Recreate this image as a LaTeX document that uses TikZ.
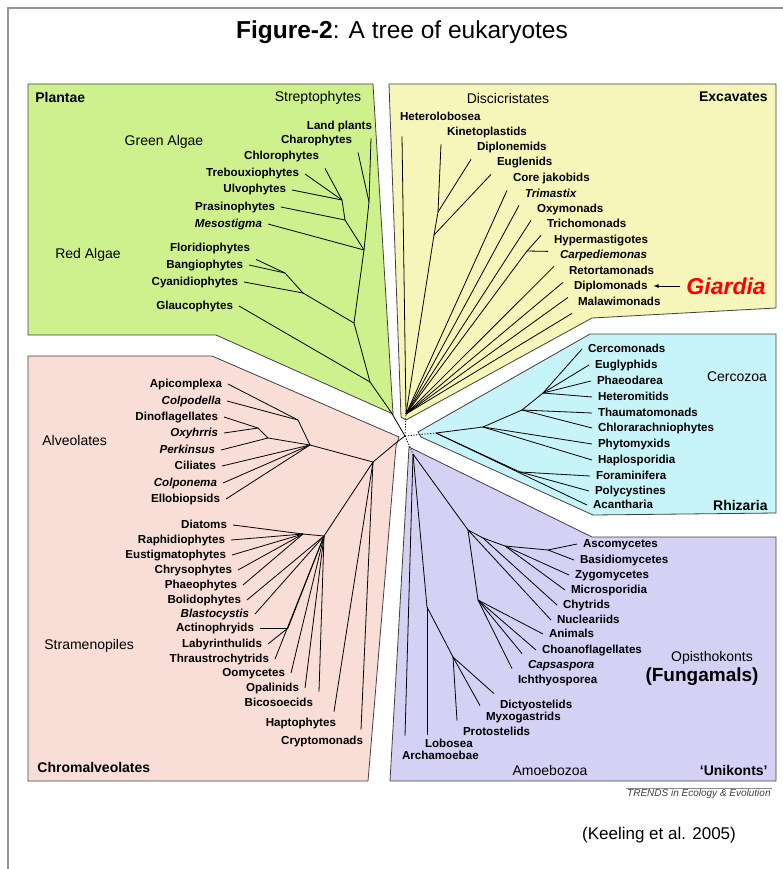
\documentclass[tikz,border=0pt]{standalone}
\usepackage{fontspec}
\setmainfont{Liberation Sans}
\usetikzlibrary{positioning}
\definecolor{plantbg}{RGB}{206,241,142}
\definecolor{excavbg}{RGB}{246,246,186}
\definecolor{rhizbg}{RGB}{198,244,248}
\definecolor{chrombg}{RGB}{248,222,215}
\definecolor{unibg}{RGB}{213,209,245}
\definecolor{framegray}{RGB}{150,150,150}

\begin{document}
\begin{tikzpicture}
[x=1pt,y=-1pt,line width=0.8pt,
 panel/.style={draw=black!75},
 dotbr/.style={dash pattern=on 1.2pt off 1.6pt},
 lab/.style={font=\fontsize{11.6}{13}\selectfont\bfseries,inner sep=0pt,outer sep=6pt,text height=8.4pt,text depth=2.4pt},
 ilab/.style={lab,font=\fontsize{11.6}{13}\selectfont\bfseries\itshape},
 grp/.style={font=\fontsize{14}{16}\selectfont,inner sep=0pt},
 bgrp/.style={grp,font=\fontsize{14}{16}\selectfont\bfseries}]
\useasboundingbox (0,0) rectangle (783,869);
\draw[framegray,line width=2pt] (8,869) -- (8,8) -- (783,8);
\node[font=\fontsize{24.5}{28}\selectfont] (title) at (402,32) {\textbf{Figure-2}: A tree of eukaryotes};

\path[panel,fill=plantbg] (28,84) -- (373,84) -- (393,414) -- (216,335) -- (28,335) -- cycle;
\path[panel,fill=excavbg] (389,84) -- (776,84) -- (776,308) -- (592,318) -- (406,420) -- (401,417) -- cycle;
\path[panel,fill=rhizbg] (590,334) -- (776,334) -- (776,513) -- (593,515) -- (421,437) -- (418,432) -- cycle;
\path[panel,fill=chrombg] (28,356) -- (212,356) -- (399,437) -- (396,446) -- (368,781) -- (28,781) -- cycle;
\path[panel,fill=unibg] (409,447) -- (592,537) -- (776,537) -- (776,781) -- (390,781) -- cycle;

\coordinate (o) at (405,436);

\node[bgrp,anchor=west] (plantae) at (35,97) {Plantae};
\node[grp] (strep) at (318,98) {Streptophytes};
\node[grp] (greenalg) at (164,142) {Green Algae};
\node[grp] (redalg) at (88,255) {Red Algae};
\node[lab,anchor=east] (lp) at (378,127) {Land plants};
\node[lab,anchor=east] (cha) at (358,141) {Charophytes};
\node[lab,anchor=east] (chl) at (325,157) {Chlorophytes};
\node[lab,anchor=east] (tre) at (305,174) {Trebouxiophytes};
\node[lab,anchor=east] (ulv) at (292,190) {Ulvophytes};
\node[lab,anchor=east] (pra) at (281,207) {Prasinophytes};
\node[ilab,anchor=east] (mes) at (268,224) {Mesostigma};
\node[lab,anchor=east] (flo) at (256,248) {Floridiophytes};
\node[lab,anchor=east] (ban) at (249,265) {Bangiophytes};
\node[lab,anchor=east] (cya) at (244,282) {Cyanidiophytes};
\node[lab,anchor=east] (gla) at (239,306) {Glaucophytes};
\coordinate (pA) at (369,202);
\coordinate (pB) at (342,200);
\coordinate (pC) at (345,220);
\coordinate (pD) at (364,250);
\coordinate (pF) at (285,273);
\coordinate (pG) at (303,293);
\coordinate (pE) at (354,323);
\coordinate (pH) at (370,382);
\coordinate (rp) at (391,412);
\path (pA) edge ([xshift=-7pt]lp.south east) (pA) edge (cha.south east)
 (pB) edge (chl.south east) (pB) edge (tre.east) (pB) edge (ulv.east)
 (pC) edge (pB) (pC) edge (pra.east)
 (pD) edge (pA) (pD) edge (pC) (pD) edge (mes.east)
 (pF) edge (flo.south east) (pF) edge (ban.east)
 (pG) edge (pF) (pG) edge (cya.east)
 (pE) edge (pD) (pE) edge (pG)
 (pH) edge (pE) (pH) edge (gla.east)
 (rp) edge (pH) (o) edge (rp);

\node[grp] (disc) at (508,98) {Discicristates};
\node[bgrp,anchor=east] (exc) at (768,97) {Excavates};
\node[lab,anchor=west] (het) at (394,118) {Heterolobosea};
\node[lab,anchor=west] (kin) at (441,133) {Kinetoplastids};
\node[lab,anchor=west] (dpn) at (471,148) {Diplonemids};
\node[lab,anchor=west] (eug) at (491,163) {Euglenids};
\node[lab,anchor=west] (cja) at (507,179) {Core jakobids};
\node[ilab,anchor=west] (tri) at (519,194) {Trimastix};
\node[lab,anchor=west] (oxy) at (531,209) {Oxymonads};
\node[lab,anchor=west] (trc) at (541,224) {Trichomonads};
\node[lab,anchor=west] (hyp) at (548,240) {Hypermastigotes};
\node[ilab,anchor=west] (car) at (554,255) {Carpediemonas};
\node[lab,anchor=west] (ret) at (563,271) {Retortamonads};
\node[lab,anchor=west] (dpm) at (568,286) {Diplomonads};
\node[lab,anchor=west] (mal) at (572,302) {Malawimonads};
\node[lab,text=red,font=\fontsize{23}{25}\selectfont\bfseries\itshape,text height=16pt,text depth=0pt,right=27pt of dpm] (gia) {Giardia};
\draw[-latex] (gia.west) -- (dpm.east);
\coordinate (ek1) at (438,212);
\coordinate (ek2) at (434,235);
\coordinate (eh) at (527,251);
\coordinate (re) at (406,414);
\path (ek1) edge (kin.south west) (ek1) edge (dpn.south west)
 (ek2) edge (ek1) (ek2) edge (eug.south west)
 (eh) edge (trc.south west) (eh) edge (hyp.south west)
 (re) edge ([xshift=8pt,yshift=-7pt]het.south west) (re) edge (ek2)
 (re) edge (cja.south west) (re) edge (tri.south west) (re) edge (oxy.south west)
 (re) edge (eh) (re) edge (car.south west) (re) edge (ret.south west)
 (re) edge (dpm.south west) (re) edge (mal.south west)
 (o) edge[dotbr] (re);

\node[grp] (cercoz) at (737,377) {Cercozoa};
\node[bgrp,anchor=east] (rhiz) at (768,505) {Rhizaria};
\node[lab,anchor=west] (cerc) at (582,349) {Cercomonads};
\node[lab,anchor=west] (eugl) at (589,365) {Euglyphids};
\node[lab,anchor=west] (pha) at (591,381) {Phaeodarea};
\node[lab,anchor=west] (hetm) at (592,397) {Heteromitids};
\node[lab,anchor=west] (tha) at (592,413) {Thaumatomonads};
\node[lab,anchor=west] (chlr) at (592,428) {Chlorarachniophytes};
\node[lab,anchor=west] (phy) at (592,444) {Phytomyxids};
\node[lab,anchor=west] (hap) at (592,460) {Haplosporidia};
\node[lab,anchor=west] (fora) at (590,476) {Foraminifera};
\node[lab,anchor=west] (pol) at (589,491) {Polycystines};
\node[lab,anchor=west] (aca) at (587,505) {Acantharia};
\coordinate (rn1) at (543,393);
\coordinate (rn2) at (522,410);
\coordinate (rn3) at (483,427);
\coordinate (rn4) at (520,472);
\coordinate (rr) at (436,433);
\path (rn1) edge (cerc.west) (rn1) edge (eugl.west) (rn1) edge (pha.west) (rn1) edge (hetm.west)
 (rn2) edge (rn1) (rn2) edge (tha.west) (rn2) edge (chlr.west)
 (rn3) edge (rn2) (rn3) edge (phy.west) (rn3) edge (hap.west)
 (rn4) edge (fora.west) (rn4) edge (pol.west)
 (rr) edge (rn3) (rr) edge (rn4) (rr) edge (aca.west)
 (o) edge[dotbr] (rr);

\node[grp] (opis) at (712,658) {Opisthokonts};
\node[bgrp,font=\fontsize{19}{22}\selectfont\bfseries] (fung) at (702,677) {(Fungamals)};
\node[grp] (amoe) at (550,770) {Amoebozoa};
\node[bgrp,anchor=east] (uni) at (768,770) {`Unikonts'};
\node[lab,anchor=west] (asc) at (577,544) {Ascomycetes};
\node[lab,anchor=west] (bas) at (574,560) {Basidiomycetes};
\node[lab,anchor=west] (zyg) at (569,575) {Zygomycetes};
\node[lab,anchor=west] (mic) at (565,590) {Microsporidia};
\node[lab,anchor=west] (chy) at (557,605) {Chytrids};
\node[lab,anchor=west] (nuc) at (551,620) {Nucleariids};
\node[lab,anchor=west] (ani) at (543,634) {Animals};
\node[lab,anchor=west] (cho) at (536,650) {Choanoflagellates};
\node[ilab,anchor=west] (cap) at (522,665) {Capsaspora};
\node[lab,anchor=west] (ich) at (512,680) {Ichthyosporea};
\node[lab,anchor=west] (dic) at (494,705) {Dictyostelids};
\node[lab,anchor=west] (myx) at (480,717) {Myxogastrids};
\node[lab,anchor=west] (pro) at (457,732) {Protostelids};
\node[lab,anchor=west] (lob) at (419,744) {Lobosea};
\node[lab,anchor=west] (arc) at (396,756) {Archamoebae};
\coordinate (ru) at (413,454);
\coordinate (ua1) at (427,607);
\coordinate (ua2) at (453,657);
\coordinate (uo1) at (468,530);
\coordinate (uo2) at (478,600);
\coordinate (uf1) at (483,538);
\coordinate (uf2) at (505,546);
\coordinate (uf3) at (548,550);
\path (ru) edge ([xshift=9pt,yshift=9pt]arc.north west) (ru) edge (ua1) (ru) edge (uo1)
 (ua1) edge ([xshift=8pt,yshift=-2pt]lob.north west) (ua1) edge (ua2)
 (ua2) edge (dic.north west) (ua2) edge (myx.north west) (ua2) edge (pro.north west)
 (uo1) edge (nuc.west) (uo1) edge (uf1) (uo1) edge (uo2)
 (uf1) edge (chy.west) (uf1) edge (uf2)
 (uf2) edge (mic.west) (uf2) edge (zyg.west) (uf2) edge (uf3)
 (uf3) edge (asc.west) (uf3) edge (bas.west)
 (uo2) edge (ani.west) (uo2) edge (cho.west) (uo2) edge (cap.north west) (uo2) edge (ich.north west)
 (o) edge[dotbr] (ru);

\node[grp,anchor=west] (alv) at (42,440) {Alveolates};
\node[grp,anchor=west] (stra) at (44,646) {Stramenopiles};
\node[bgrp,anchor=west] (chro) at (37,767) {Chromalveolates};
\node[lab,anchor=east] (api) at (228,384) {Apicomplexa};
\node[ilab,anchor=east] (col) at (227,401) {Colpodella};
\node[lab,anchor=east] (din) at (224,417) {Dinoflagellates};
\node[ilab,anchor=east] (oxh) at (224,433) {Oxyhrris};
\node[ilab,anchor=east] (per) at (221,450) {Perkinsus};
\node[lab,anchor=east] (cil) at (222,466) {Ciliates};
\node[ilab,anchor=east] (cpn) at (223,483) {Colponema};
\node[lab,anchor=east] (ell) at (226,499) {Ellobiopsids};
\node[lab,anchor=east] (dia) at (233,525) {Diatoms};
\node[lab,anchor=east] (rap) at (231,540) {Raphidiophytes};
\node[lab,anchor=east] (eus) at (232,555) {Eustigmatophytes};
\node[lab,anchor=east] (chr) at (238,570) {Chrysophytes};
\node[lab,anchor=east] (phe) at (243,585) {Phaeophytes};
\node[lab,anchor=east] (bol) at (247,600) {Bolidophytes};
\node[ilab,anchor=east] (bla) at (255,614) {Blastocystis};
\node[lab,anchor=east] (act) at (260,628) {Actinophryids};
\node[lab,anchor=east] (laby) at (268,644) {Labyrinthulids};
\node[lab,anchor=east] (thr) at (275,659) {Thraustrochytrids};
\node[lab,anchor=east] (oom) at (291,673) {Oomycetes};
\node[lab,anchor=east] (opa) at (305,688) {Opalinids};
\node[lab,anchor=east] (bic) at (319,703) {Bicosoecids};
\node[lab,anchor=east] (hpt) at (342,723) {Haptophytes};
\node[lab,anchor=east] (cry) at (369,741) {Cryptomonads};
\coordinate (rc) at (397,442);
\coordinate (cC1) at (373,462);
\coordinate (cAL) at (310,445);
\coordinate (cAP) at (298,420);
\coordinate (cD1) at (268,438);
\coordinate (cD2) at (258,428);
\coordinate (cS1) at (324,536);
\coordinate (cS2) at (303,534);
\coordinate (cL) at (288,628);
\path (o) edge (rc) (rc) edge (cC1)
 (cC1) edge (cAL) (cC1) edge (cS1)
 (cC1) edge ([xshift=-8pt]hpt.north east) (cC1) edge ([xshift=-8pt]cry.north east)
 (cAL) edge (cAP) (cAP) edge (api.east) (cAP) edge (col.east)
 (cD2) edge (din.east) (cD2) edge (oxh.east) (cD1) edge (cD2) (cD1) edge (per.east)
 (cAL) edge (cD1) (cAL) edge (cil.east) (cAL) edge (cpn.east) (cAL) edge (ell.east)
 (cS1) edge (cS2) (cS2) edge (dia.east) (cS2) edge (rap.east) (cS2) edge (eus.east)
 (cS2) edge (chr.east) (cS2) edge (phe.east)
 (cS1) edge (bol.east) (cS1) edge (bla.east) (cS1) edge (cL)
 (cL) edge (act.east) (cL) edge (laby.east)
 (cS1) edge (thr.east) (cS1) edge (oom.east) (cS1) edge (opa.east) (cS1) edge (bic.north east);

\node[font=\fontsize{10}{11}\selectfont\itshape,text=black!75,anchor=east,inner sep=1pt] (trends) at (772,794) {TRENDS in Ecology \& Evolution};
\draw[black!45,line width=0.5pt] (trends.north west) -- (trends.north east);
\node[font=\fontsize{17}{20}\selectfont] (keel) at (659,835) {(Keeling et al. 2005)};
\end{tikzpicture}
\end{document}
